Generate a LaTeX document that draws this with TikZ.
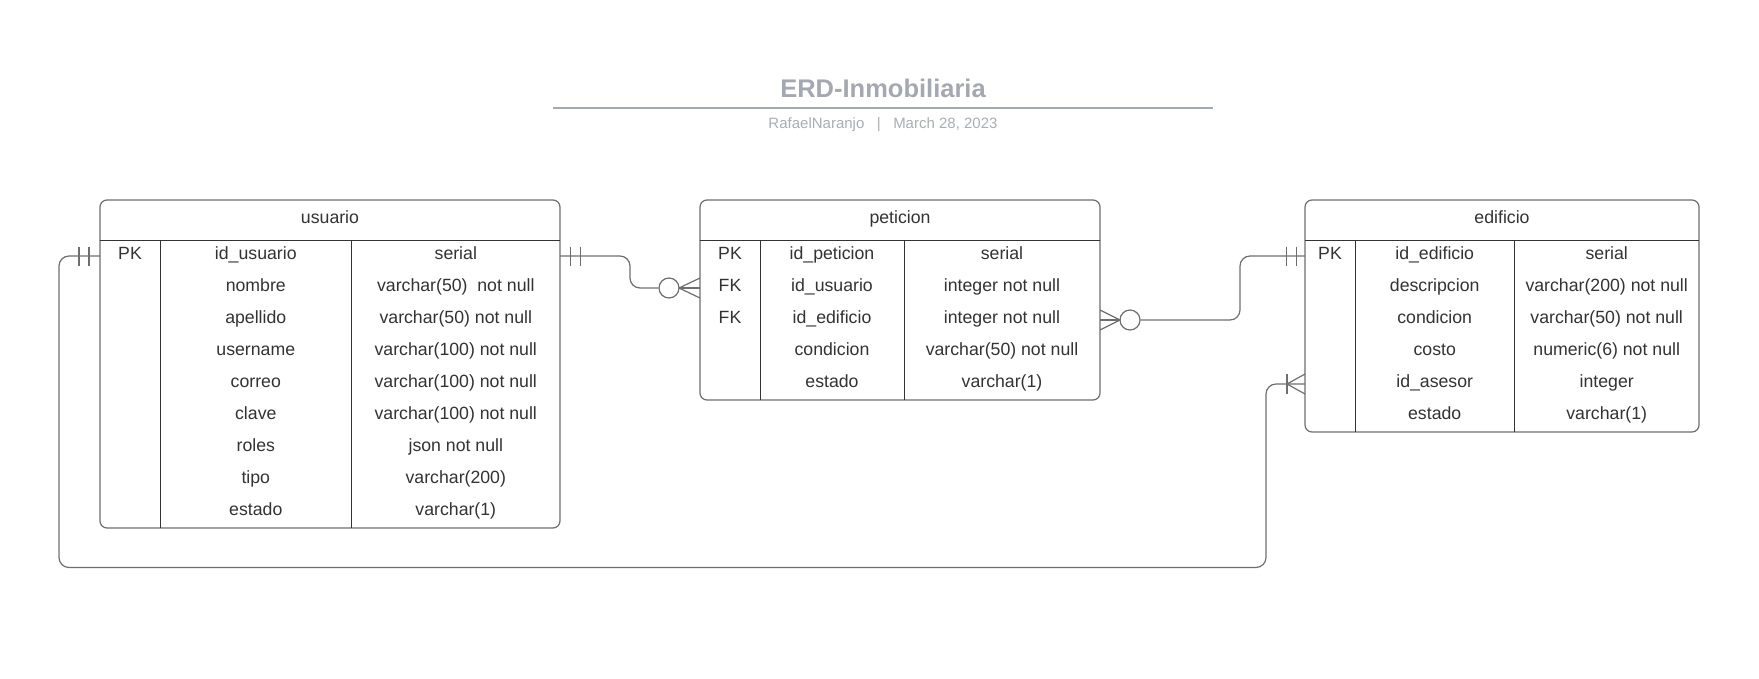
\documentclass[tikz,border=0pt]{standalone}
\usepackage{fontspec}
\setmainfont{Liberation Sans}
\definecolor{tblborder}{HTML}{6E6E6E}
\definecolor{inl}{HTML}{333333}
\definecolor{txt}{HTML}{333333}
\definecolor{connc}{HTML}{6E6E6E}
\definecolor{titlec}{HTML}{A3A8B1}
\definecolor{subc}{HTML}{A9ADB5}
\begin{document}
\begin{tikzpicture}[x=1pt,y=-1pt,
  tbl/.style={draw=tblborder, line width=1.2pt, rounded corners=7pt, inner sep=0pt, outer sep=0pt, fill=white, anchor=north west},
  innerline/.style={draw=inl, line width=1pt},
  cell/.style={anchor=base, inner sep=0pt, font=\fontsize{17.7}{20}\selectfont, text=txt},
  conn/.style={draw=connc, line width=1.2pt, rounded corners=10pt},
  erdmark/.style={draw=connc, line width=1.2pt},
  zerocirc/.style={circle, draw=connc, line width=1.2pt, fill=white, minimum size=20pt, inner sep=0pt}
]
\useasboundingbox (0,0) rectangle (1759,678);

% title
\node[font=\bfseries\fontsize{25.5}{28}\selectfont, text=titlec, inner sep=0pt] (title) at (883,88.5) {ERD-Inmobiliaria};
\coordinate (tl) at (553,107.5);
\coordinate (tr) at (1213,107.5);
\draw[titlec, line width=2pt] (tl) -- (tr);
\node[font=\fontsize{15}{18}\selectfont, text=subc, inner sep=0pt, anchor=base] (sub) at (883,128) {RafaelNaranjo\ \ \ |\ \ \ March 28, 2023};

% ---------- usuario ----------
\node[tbl, minimum width=460pt, minimum height=328pt] (usuario) at (100,200) {};
\draw[innerline] (100,240) -- (560,240);
\draw[innerline] (160,240) -- (160,528);
\draw[innerline] (351.7,240) -- (351.7,528);
\node[cell] (uh) at (330,223.2) {usuario};
\node[cell] (upk) at (130,259.3) {PK};
\foreach \n/\t [count=\i] in {id\_usuario/serial, nombre/varchar(50)\ \ not null, apellido/varchar(50) not null, username/varchar(100) not null, correo/varchar(100) not null, clave/varchar(100) not null, roles/json not null, tipo/varchar(200), estado/varchar(1)}{
  \node[cell] (un\i) at (255.8,{227.3+32*\i}) {\n};
  \node[cell] (ut\i) at (455.8,{227.3+32*\i}) {\t};
}

% ---------- peticion ----------
\node[tbl, minimum width=400pt, minimum height=200pt] (peticion) at (700,200) {};
\draw[innerline] (700,240) -- (1100,240);
\draw[innerline] (760,240) -- (760,400);
\draw[innerline] (904.3,240) -- (904.3,400);
\node[cell] (ph) at (900,223.2) {peticion};
\node[cell] (pk1) at (730,259.3) {PK};
\node[cell] (pk2) at (730,291.3) {FK};
\node[cell] (pk3) at (730,323.3) {FK};
\foreach \n/\t [count=\i] in {id\_peticion/serial, id\_usuario/integer not null, id\_edificio/integer not null, condicion/varchar(50) not null, estado/varchar(1)}{
  \node[cell] (pn\i) at (832,{227.3+32*\i}) {\n};
  \node[cell] (pt\i) at (1002,{227.3+32*\i}) {\t};
}

% ---------- edificio ----------
\node[tbl, minimum width=394pt, minimum height=232pt] (edificio) at (1305,200) {};
\draw[innerline] (1305,240) -- (1699,240);
\draw[innerline] (1355,240) -- (1355,432);
\draw[innerline] (1514.3,240) -- (1514.3,432);
\node[cell] (eh) at (1502,223.2) {edificio};
\node[cell] (epk) at (1330,259.3) {PK};
\foreach \n/\t [count=\i] in {id\_edificio/serial, descripcion/varchar(200) not null, condicion/varchar(50) not null, costo/numeric(6) not null, id\_asesor/integer, estado/varchar(1)}{
  \node[cell] (en\i) at (1434.7,{227.3+32*\i}) {\n};
  \node[cell] (et\i) at (1606.7,{227.3+32*\i}) {\t};
}

% ---------- connector usuario -> peticion ----------
\coordinate (a1) at (560,256);
\coordinate (a2) at (700,288);
\node[zerocirc] (o1) at (669,288) {};
\draw[conn] (a1) -- (630,256) -- (630,288) -- (o1.west);
\draw[erdmark] (570.7,246.5) -- (570.7,265.5);
\draw[erdmark] (580.7,246.5) -- (580.7,265.5);
\coordinate (f1) at (679,288);
\draw[erdmark] (f1) -- (700,278);
\draw[erdmark] (f1) -- (a2);
\draw[erdmark] (f1) -- (700,298);

% ---------- connector edificio -> peticion ----------
\coordinate (b1) at (1305,256);
\coordinate (b2) at (1100,320);
\node[zerocirc] (o2) at (1130,320) {};
\draw[conn] (b1) -- (1240,256) -- (1240,320) -- (o2.east);
\draw[erdmark] (1296.7,246.5) -- (1296.7,265.5);
\draw[erdmark] (1286.7,246.5) -- (1286.7,265.5);
\coordinate (f2) at (1120,320);
\draw[erdmark] (f2) -- (1100,310);
\draw[erdmark] (f2) -- (b2);
\draw[erdmark] (f2) -- (1100,330);

% ---------- connector usuario -> edificio ----------
\coordinate (c1) at (100,256);
\coordinate (c2) at (1305,384);
\coordinate (f3) at (1287,384);
\draw[conn] (c1) -- (59,256) -- (59,567.5) -- (1266,567.5) -- (1266,384) -- (c2);
\draw[erdmark] (79,246.5) -- (79,265.5);
\draw[erdmark] (89,246.5) -- (89,265.5);
\draw[erdmark] (1287,374) -- (1287,394);
\draw[erdmark] (f3) -- (1305,374);
\draw[erdmark] (f3) -- (1305,394);
\end{tikzpicture}
\end{document}
